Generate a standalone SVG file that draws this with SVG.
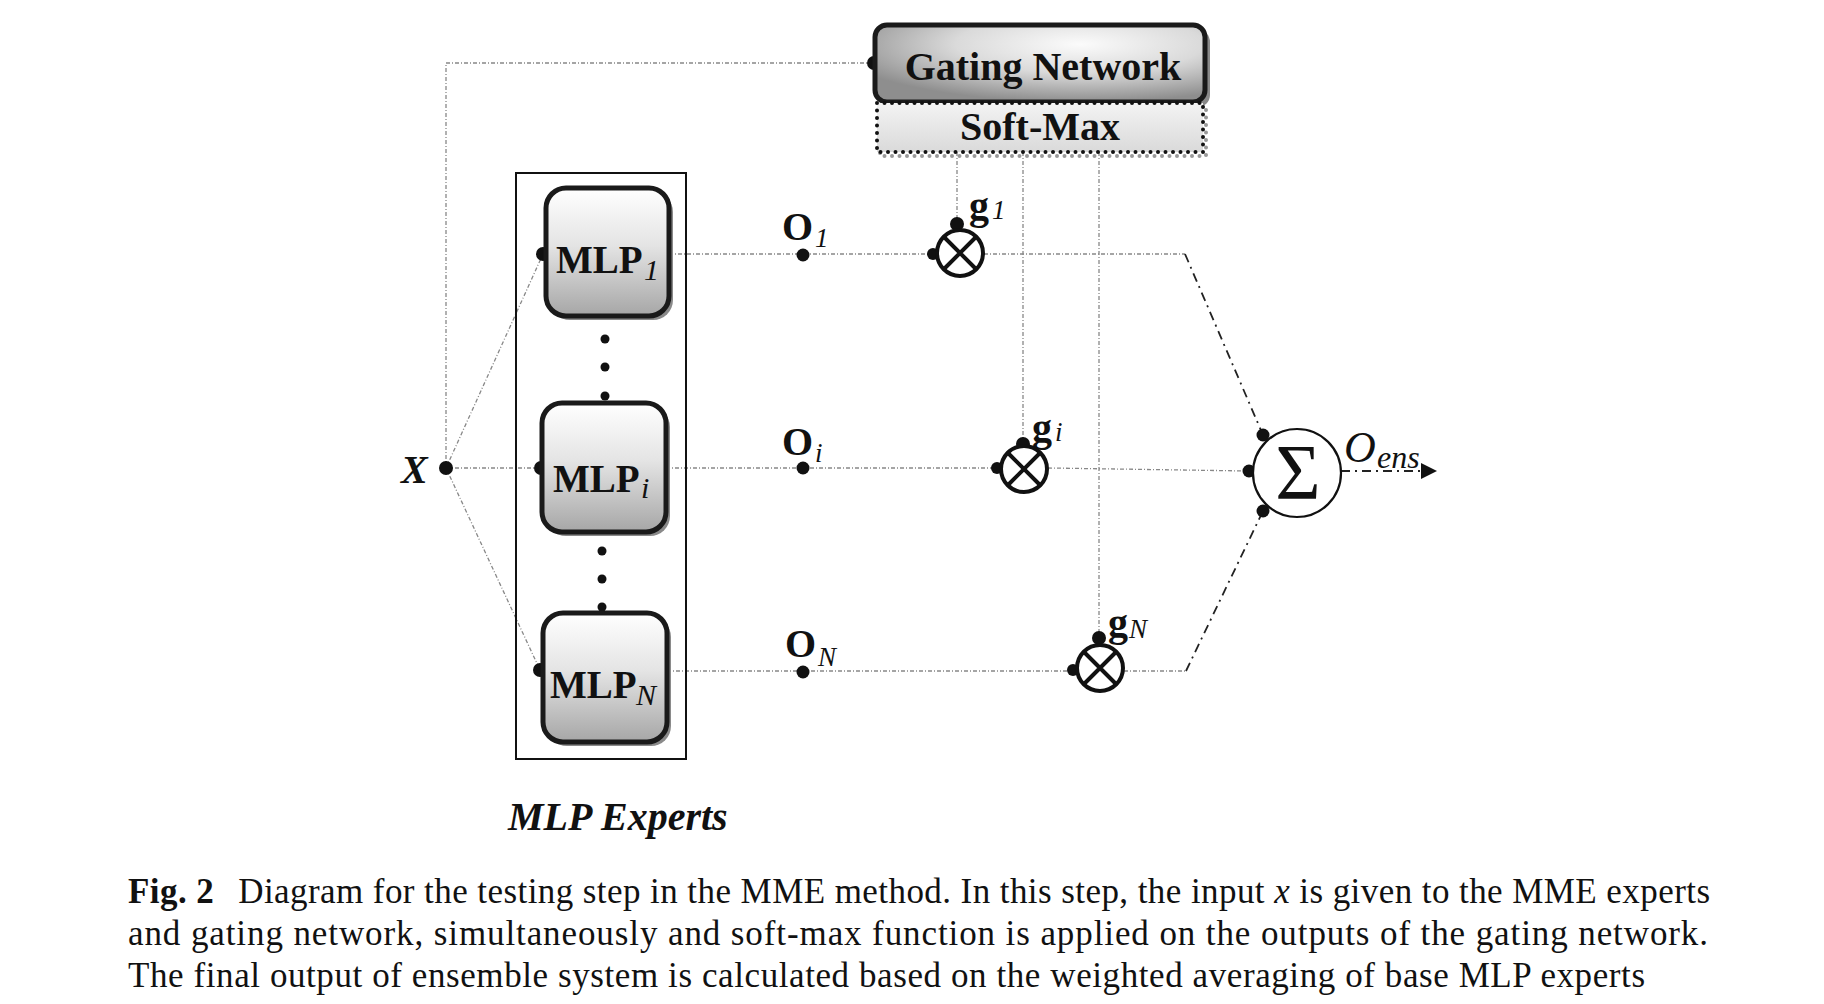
<svg xmlns="http://www.w3.org/2000/svg" width="1824" height="1004" viewBox="0 0 1824 1004">
<style>
.serif{font-family:"Liberation Serif","Times New Roman",serif;fill:#111}
.b{font-weight:bold}
.i{font-style:italic}
.thin{fill:none;stroke:#888;stroke-width:1.3;stroke-dasharray:4 2 1 2}
.dd{fill:none;stroke:#222;stroke-width:1.8;stroke-dasharray:9 5 2 5}
.dot{fill:#111}
.box{stroke:#1a1a1a;stroke-width:5}
.shadow{fill:#8a8a8a}
.mul{fill:#fff;stroke:#111;stroke-width:4}
.cross{stroke:#111;stroke-width:4}
</style>
<defs>
<linearGradient id="mlpGrad" x1="0" y1="0" x2="0" y2="1">
<stop offset="0" stop-color="#ffffff"/>
<stop offset="0.45" stop-color="#e4e4e4"/>
<stop offset="1" stop-color="#a6a6a6"/>
</linearGradient>
<radialGradient id="gateGrad" cx="0.62" cy="0.25" r="0.75">
<stop offset="0" stop-color="#fbfbfb"/>
<stop offset="0.5" stop-color="#dadada"/>
<stop offset="1" stop-color="#8e8e8e"/>
</radialGradient>
<linearGradient id="smGrad" x1="0" y1="0" x2="0" y2="1">
<stop offset="0" stop-color="#f3f3f3"/>
<stop offset="1" stop-color="#dadada"/>
</linearGradient>
<marker id="arrow" viewBox="0 0 10 10" refX="10" refY="5" markerWidth="16" markerHeight="16" markerUnits="userSpaceOnUse" orient="auto">
<path d="M0,0 L10,5 L0,10 Z" fill="#111"/>
</marker>
</defs>

<g id="connectors">
<path class="thin" d="M446,468 V63 H873"/>
<path class="thin" d="M446,468 L543,254"/>
<path class="thin" d="M446,468 H541"/>
<path class="thin" d="M446,468 L540,670"/>
<path class="thin" d="M669,254 H933"/>
<path class="thin" d="M666,468 H997"/>
<path class="thin" d="M667,671 H1073"/>
<path class="thin" d="M957,152 V223"/>
<path class="thin" d="M1023,152 V443"/>
<path class="thin" d="M1099,152 V640"/>
<path class="thin" d="M984,254 H1185"/>
<path class="dd" d="M1185,254 L1263,435"/>
<path class="thin" d="M1048,468 L1249,471"/>
<path class="thin" d="M1124,671 H1186"/>
<path class="dd" d="M1186,671 L1263,511"/>
<path class="dd" d="M1341,471 H1437" marker-end="url(#arrow)"/>
</g>

<g id="input-x">
<circle class="dot" cx="446" cy="468" r="7"/>
<text class="serif b i" x="401" y="483" font-size="40">X</text>
</g>

<g id="gating-network">
<circle class="dot" cx="874" cy="63" r="7"/>
<rect class="shadow" x="880" y="30" width="330" height="77" rx="12"/>
<rect class="box" x="875" y="25" width="330" height="77" rx="12" fill="url(#gateGrad)"/>
<text class="serif b" x="1043" y="80" font-size="40" text-anchor="middle">Gating Network</text>
</g>

<g id="soft-max">
<rect x="880" y="106" width="326" height="50" fill="none" stroke="#999" stroke-width="4" stroke-linecap="round" stroke-dasharray="0 7.5"/>
<rect x="877" y="103" width="326" height="49" fill="url(#smGrad)" stroke="#111" stroke-width="4" stroke-linecap="round" stroke-dasharray="0 7.5"/>
<text class="serif b" x="1040" y="140" font-size="40" text-anchor="middle">Soft-Max</text>
</g>

<g id="mlp-experts">
<rect x="516" y="173" width="170" height="586" fill="none" stroke="#111" stroke-width="2"/>
<text class="serif b i" x="508" y="830" font-size="40">MLP Experts</text>
</g>

<g id="mlp-1">
<circle class="dot" cx="543" cy="254" r="7"/>
<rect class="shadow" x="550" y="192" width="123" height="128" rx="20"/>
<rect class="box" x="546" y="188" width="123" height="128" rx="20" fill="url(#mlpGrad)"/>
<text class="serif b" x="556" y="273" font-size="39">MLP</text>
<text class="serif i" x="644" y="280" font-size="30">1</text>
</g>

<g id="ellipsis-1">
<circle class="dot" cx="605" cy="339" r="4.5"/>
<circle class="dot" cx="605" cy="367" r="4.5"/>
<circle class="dot" cx="605" cy="396" r="4.5"/>
</g>

<g id="mlp-i">
<circle class="dot" cx="541" cy="468" r="7"/>
<rect class="shadow" x="546" y="407" width="124" height="129" rx="20"/>
<rect class="box" x="542" y="403" width="124" height="129" rx="20" fill="url(#mlpGrad)"/>
<text class="serif b" x="553" y="492" font-size="39">MLP</text>
<text class="serif i" x="641" y="498" font-size="30">i</text>
</g>

<g id="ellipsis-2">
<circle class="dot" cx="602" cy="551" r="4.5"/>
<circle class="dot" cx="602" cy="579" r="4.5"/>
<circle class="dot" cx="602" cy="607" r="4.5"/>
</g>

<g id="mlp-n">
<circle class="dot" cx="540" cy="670" r="7"/>
<rect class="shadow" x="547" y="617" width="124" height="129" rx="20"/>
<rect class="box" x="543" y="613" width="124" height="129" rx="20" fill="url(#mlpGrad)"/>
<text class="serif b" x="550" y="698" font-size="39">MLP</text>
<text class="serif i" x="636" y="705" font-size="30">N</text>
</g>

<g id="o-1">
<circle class="dot" cx="803" cy="255" r="6.5"/>
<text class="serif b" x="782" y="240" font-size="40">O</text>
<text class="serif i" x="815" y="247" font-size="27">1</text>
</g>
<g id="o-i">
<circle class="dot" cx="803" cy="468" r="6.5"/>
<text class="serif b" x="782" y="455" font-size="40">O</text>
<text class="serif i" x="815" y="462" font-size="27">i</text>
</g>
<g id="o-n">
<circle class="dot" cx="803" cy="672" r="6.5"/>
<text class="serif b" x="785" y="657" font-size="40">O</text>
<text class="serif i" x="818" y="666" font-size="27">N</text>
</g>

<g id="mult-1">
<circle class="dot" cx="933" cy="254" r="6"/>
<circle class="dot" cx="957" cy="224" r="7"/>
<circle class="mul" cx="960" cy="253" r="23"/>
<path class="cross" d="M944,237 L976,269 M976,237 L944,269"/>
<text class="serif b" x="969" y="219" font-size="40">g</text>
<text class="serif i" x="992" y="219" font-size="27">1</text>
</g>
<g id="mult-i">
<circle class="dot" cx="997" cy="468" r="6"/>
<circle class="dot" cx="1023" cy="444" r="7"/>
<circle class="mul" cx="1024" cy="469" r="23"/>
<path class="cross" d="M1008,453 L1040,485 M1040,453 L1008,485"/>
<text class="serif b" x="1032" y="441" font-size="40">g</text>
<text class="serif i" x="1055" y="441" font-size="27">i</text>
</g>
<g id="mult-n">
<circle class="dot" cx="1073" cy="670" r="6"/>
<circle class="dot" cx="1099" cy="638" r="7"/>
<circle class="mul" cx="1100" cy="668" r="23"/>
<path class="cross" d="M1084,652 L1116,684 M1116,652 L1084,684"/>
<text class="serif b" x="1108" y="636" font-size="40">g</text>
<text class="serif i" x="1129" y="638" font-size="27">N</text>
</g>

<g id="sum">
<circle class="dot" cx="1263" cy="435" r="6.5"/>
<circle class="dot" cx="1249" cy="471" r="6.5"/>
<circle class="dot" cx="1263" cy="511" r="6.5"/>
<circle cx="1297" cy="473" r="44" fill="#fff" stroke="#111" stroke-width="2.2"/>
<text class="serif" x="1298" y="498" font-size="78" text-anchor="middle">Σ</text>
<text class="serif i" x="1344" y="462" font-size="44">O</text>
<text class="serif i" x="1377" y="468" font-size="32">ens</text>
</g>

<g id="caption">
<text class="serif" x="128" y="903" font-size="35" textLength="1582" lengthAdjust="spacing"><tspan class="b">Fig. 2</tspan><tspan dx="24">Diagram for the testing step in the MME method. In this step, the input </tspan><tspan class="i">x</tspan> is given to the MME experts</text>
<text class="serif" x="128" y="945" font-size="35" textLength="1580" lengthAdjust="spacing">and gating network, simultaneously and soft-max function is applied on the outputs of the gating network.</text>
<text class="serif" x="128" y="987" font-size="35" textLength="1517" lengthAdjust="spacing">The final output of ensemble system is calculated based on the weighted averaging of base MLP experts</text>
</g>
</svg>
